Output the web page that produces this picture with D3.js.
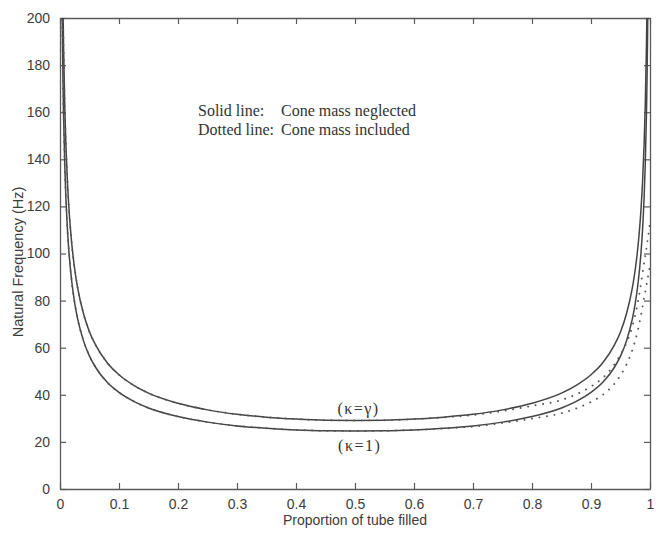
<!DOCTYPE html>
<html>
<head>
<meta charset="utf-8">
<script src="https://cdn.jsdelivr.net/npm/d3@7"></script>
<style>
  html, body { margin: 0; padding: 0; background: #ffffff; }
  svg { display: block; }
</style>
</head>
<body>
<svg id="chart" width="656" height="534"></svg>
<script>
// ---------- data ----------
const xTicks = [0, 0.1, 0.2, 0.3, 0.4, 0.5, 0.6, 0.7, 0.8, 0.9, 1];
const xTickLabels = ["0", "0.1", "0.2", "0.3", "0.4", "0.5", "0.6", "0.7", "0.8", "0.9", "1"];
const yTicks = [0, 20, 40, 60, 80, 100, 120, 140, 160, 180, 200];

// proportion of tube filled (solid curves)
const xSolid = [0.003, 0.004, 0.005, 0.006, 0.008, 0.01, 0.0125, 0.015, 0.02, 0.025, 0.03, 0.04, 0.05, 0.06, 0.08, 0.1, 0.125, 0.15, 0.2, 0.25, 0.3, 0.35, 0.4, 0.45,
  0.5,
  0.55, 0.6, 0.65, 0.7, 0.75, 0.8, 0.85, 0.875, 0.9, 0.92, 0.94, 0.95, 0.96, 0.97, 0.975, 0.98, 0.985, 0.9875, 0.99, 0.992, 0.994, 0.995, 0.996, 0.997];
// solid line, kappa = gamma (cone mass neglected)
const solidGamma = [266.0, 230.6, 206.3, 188.5, 163.4, 146.2, 131.0, 119.7, 104.0, 93.2, 85.3, 74.3, 66.7, 61.3, 53.6, 48.5, 44.0, 40.7, 36.4, 33.6, 31.7, 30.5, 29.7, 29.2,
  29.1,
  29.2, 29.7, 30.5, 31.7, 33.6, 36.4, 40.7, 44.0, 48.5, 53.6, 61.3, 66.7, 74.3, 85.3, 93.2, 104.0, 119.7, 131.0, 146.2, 163.4, 188.5, 206.3, 230.6, 266.0];
// solid line, kappa = 1 (cone mass neglected)
const solidOne = [224.9, 194.9, 174.4, 159.3, 138.1, 123.6, 110.7, 101.2, 87.9, 78.8, 72.1, 62.8, 56.4, 51.8, 45.3, 41.0, 37.2, 34.4, 30.75, 28.4, 26.8, 25.8, 25.1, 24.7,
  24.6,
  24.7, 25.1, 25.8, 26.8, 28.4, 30.75, 34.4, 37.2, 41.0, 45.3, 51.8, 56.4, 62.8, 72.1, 78.8, 87.9, 101.2, 110.7, 123.6, 138.1, 159.3, 174.4, 194.9, 224.9];

// proportion of tube filled (dotted curves)
const xDotted = [0.003, 0.004, 0.005, 0.006, 0.008, 0.01, 0.0125, 0.015, 0.02, 0.025, 0.03, 0.04, 0.05, 0.06, 0.08, 0.1, 0.125, 0.15, 0.2, 0.25, 0.3, 0.35, 0.4, 0.45,
  0.5, 0.55, 0.6, 0.65, 0.7, 0.75, 0.8, 0.85, 0.875, 0.9, 0.92, 0.94, 0.95, 0.96, 0.97, 0.98, 0.99, 0.995, 1.0];
// dotted line, kappa = gamma (cone mass included)
const dottedGamma = [266.0, 230.6, 206.3, 188.5, 163.4, 146.2, 131.0, 119.7, 104.0, 93.2, 85.3, 74.3, 66.7, 61.3, 53.6, 48.5, 44.0, 40.7, 36.4, 33.6, 31.7, 30.5, 29.7, 29.2,
  29.1, 29.2, 29.7, 30.4, 31.4, 33.1, 35.3, 37.8, 40.2, 43.5, 47.2, 53.0, 57.0, 62.0, 69.0, 80.0, 96.0, 104.0, 113.0];
// dotted line, kappa = 1 (cone mass included)
const dottedOne = [224.9, 194.9, 174.4, 159.3, 138.1, 123.6, 110.7, 101.2, 87.9, 78.8, 72.1, 62.8, 56.4, 51.8, 45.3, 41.0, 37.2, 34.4, 30.75, 28.4, 26.8, 25.8, 25.1, 24.7,
  24.6, 24.7, 25.1, 25.7, 26.5, 28.0, 29.9, 32.2, 34.2, 37.0, 40.0, 44.8, 48.3, 52.8, 59.0, 68.0, 81.0, 88.0, 95.0];

// ---------- layout ----------
const svg = d3.select("#chart");
const mLeft = 60, mRight = 650, mTop = 18, mBottom = 489;
const x = d3.scaleLinear().domain([0, 1]).range([mLeft, mRight]);
const y = d3.scaleLinear().domain([0, 200]).range([mBottom, mTop]);

const axisColor = "#5a5a5a";
const textColor = "#3c3c3c";
const lineColor = "#444444";

svg.append("defs").append("clipPath").attr("id", "plotclip")
  .append("rect").attr("x", mLeft).attr("y", mTop).attr("width", mRight - mLeft).attr("height", mBottom - mTop);

// ---------- axes (box, inward ticks) ----------
const tickLen = 6;
const axB = svg.append("g").attr("transform", `translate(0,${mBottom})`)
  .call(d3.axisBottom(x).tickValues(xTicks).tickFormat((d, i) => xTickLabels[i]).tickSizeInner(-tickLen).tickSizeOuter(0).tickPadding(10));
const axT = svg.append("g").attr("transform", `translate(0,${mTop})`)
  .call(d3.axisTop(x).tickValues(xTicks).tickFormat("").tickSizeInner(-tickLen).tickSizeOuter(0));
const axL = svg.append("g").attr("transform", `translate(${mLeft},0)`)
  .call(d3.axisLeft(y).tickValues(yTicks).tickSizeInner(-tickLen).tickSizeOuter(0).tickPadding(10));
const axR = svg.append("g").attr("transform", `translate(${mRight},0)`)
  .call(d3.axisRight(y).tickValues(yTicks).tickFormat("").tickSizeInner(-tickLen).tickSizeOuter(0));

[axB, axT, axL, axR].forEach(g => {
  g.selectAll(".domain").attr("stroke", axisColor).attr("stroke-width", 1.3);
  g.selectAll(".tick line").attr("stroke", axisColor).attr("stroke-width", 1.2);
  g.selectAll(".tick text").attr("fill", textColor)
    .style("font-family", "'Liberation Sans', Arial, Helvetica, sans-serif").style("font-size", "14px");
});
axB.selectAll(".tick text").attr("dy", "0.71em");

// axis titles
svg.append("text")
  .attr("x", (mLeft + mRight) / 2).attr("y", 525)
  .attr("text-anchor", "middle").attr("fill", textColor)
  .style("font-family", "'Liberation Sans', Arial, Helvetica, sans-serif").style("font-size", "14px")
  .text("Proportion of tube filled");
svg.append("text")
  .attr("transform", "translate(23,262) rotate(-90)")
  .attr("text-anchor", "middle").attr("fill", textColor)
  .style("font-family", "'Liberation Sans', Arial, Helvetica, sans-serif").style("font-size", "14.5px")
  .text("Natural Frequency (Hz)");

// ---------- curves ----------
const plot = svg.append("g").attr("clip-path", "url(#plotclip)");
const line = d3.line().x(d => x(d[0])).y(d => y(d[1])).curve(d3.curveMonotoneX);

[solidGamma, solidOne].forEach(vals => {
  plot.append("path")
    .datum(xSolid.map((xv, i) => [xv, vals[i]]))
    .attr("fill", "none").attr("stroke", lineColor).attr("stroke-width", 1.5)
    .attr("d", line);
});
[dottedGamma, dottedOne].forEach(vals => {
  plot.append("path")
    .datum(xDotted.map((xv, i) => [xv, vals[i]]))
    .attr("fill", "none").attr("stroke", "#555").attr("stroke-width", 1.9)
    .attr("stroke-linecap", "round").attr("stroke-dasharray", "0.1,7.5")
    .attr("d", line);
});

// ---------- annotations ----------
const serif = "'Liberation Serif', 'Times New Roman', Times, serif";
const ann = [
  { t: "Solid line:", x: 198, y: 116 },
  { t: "Cone mass neglected", x: 281, y: 116 },
  { t: "Dotted line:", x: 198, y: 135 },
  { t: "Cone mass included", x: 281, y: 135 }
];
ann.forEach(a => {
  svg.append("text").attr("x", a.x).attr("y", a.y).attr("fill", "#333")
    .style("font-family", serif).style("font-size", "16px").text(a.t);
});
svg.append("text").attr("x", x(0.506)).attr("y", 414).attr("text-anchor", "middle").attr("fill", "#333")
  .style("font-family", serif).style("font-size", "16px").style("letter-spacing", "1.5px").text("(κ=γ)");
svg.append("text").attr("x", x(0.508)).attr("y", 451).attr("text-anchor", "middle").attr("fill", "#333")
  .style("font-family", serif).style("font-size", "16px").style("letter-spacing", "1.5px").text("(κ=1)");
</script>
</body>
</html>
